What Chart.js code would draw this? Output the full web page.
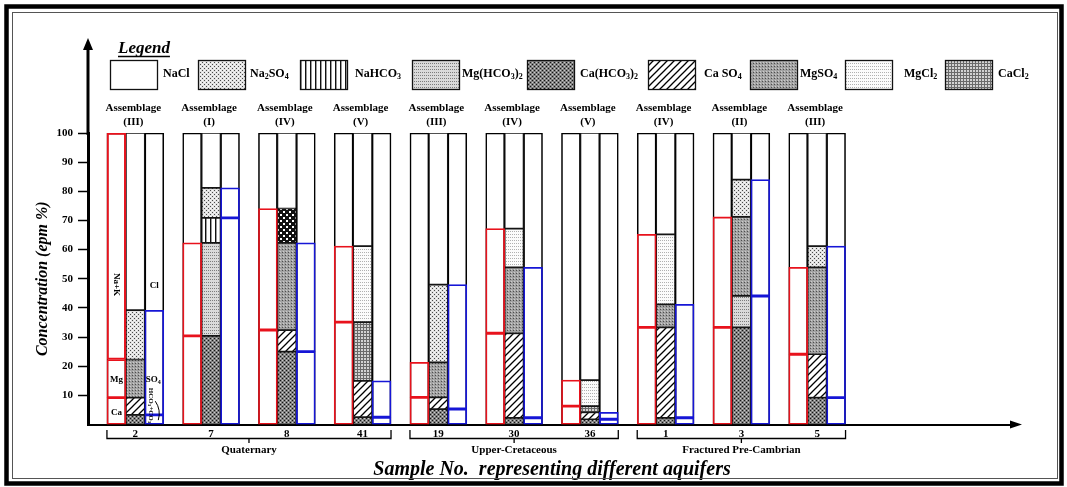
<!DOCTYPE html>
<html>
<head>
<meta charset="utf-8">
<script src="https://cdn.jsdelivr.net/npm/chart.js@4.4.1/dist/chart.umd.min.js"></script>
<style>
  html, body { margin: 0; padding: 0; background: #fff; }
  canvas { display: block; }
</style>
</head>
<body>
<canvas id="c" width="1067" height="487"></canvas>
<script>
// ---- samples ----
const samples     = ['2', '7', '8', '41', '19', '30', '36', '1', '3', '5'];
const assemblages = ['(III)', '(I)', '(IV)', '(V)', '(III)', '(IV)', '(V)', '(IV)', '(II)', '(III)'];
const aquiferNames = ['Quaternary', 'Upper-Cretaceous', 'Fractured Pre-Cambrian'];
const aquiferOf    = [0, 0, 0, 0, 1, 1, 1, 2, 2, 2];
const yTicks = [10, 20, 30, 40, 50, 60, 70, 80, 90, 100];

// ---- cations (epm %) ----
const caIon  = [9.2, 30.4, 32.4, 35.1, 9.3, 31.3, 6.3, 33.3, 33.3, 24.1];
const mgIon  = [13.1, 31.9, 41.7, 26.1, 12.0, 35.9, 8.9, 31.9, 37.9, 29.8];
const naKIon = [77.7, 37.7, 25.9, 38.8, 78.7, 32.8, 84.8, 34.8, 28.8, 46.1];

// ---- anions (epm %) ----
const hco3Ion = [3.3, 70.9, 25.0, 2.5, 5.3, 2.3, 1.8, 2.3, 44.1, 9.2];
const so4Ion  = [35.9, 10.3, 37.3, 12.5, 42.7, 51.6, 2.4, 38.9, 39.9, 52.0];
const clIon   = [60.8, 18.8, 37.7, 85.0, 52.0, 46.1, 95.8, 58.8, 16.0, 38.8];

// ---- hypothetical salts (epm %) ----
const caHCO3 = [3.3, 30.4, 25.0, 2.5, 5.3, 2.3, 1.8, 2.3, 33.3, 9.2];
const caSO4  = [5.9, 0, 7.4, 12.5, 4.0, 29.0, 2.4, 31.0, 0, 14.9];
const caCl2  = [0, 0, 0, 20.1, 0, 0, 2.1, 0, 0, 0];
const mgHCO3 = [0, 31.9, 0, 0, 0, 0, 0, 0, 10.8, 0];
const mgSO4  = [13.1, 0, 29.9, 0, 12.0, 22.6, 0, 7.9, 27.1, 29.8];
const mgCl2  = [0, 0, 11.8, 26.1, 0, 13.3, 8.9, 24.0, 0, 0];
const naHCO3 = [0, 8.6, 0, 0, 0, 0, 0, 0, 0, 0];
const na2SO4 = [16.9, 10.3, 0, 0, 26.7, 0, 0, 0, 12.8, 7.3];
const naCl   = [60.8, 18.8, 25.9, 38.8, 52.0, 32.8, 84.8, 34.8, 16.0, 38.8];

// ---- layout of the category axis: per sample three touching columns + a gap ----
const SLOTS = 49;
const slotLabels = Array.from({ length: SLOTS }, (_, i) => 'slot' + i);
const cationSlot = i => 4 * i + 1;
const saltSlot   = i => 4 * i + 2;
const anionSlot  = i => 4 * i + 3;

const SERIF = '"Liberation Serif", "Times New Roman", serif';
const RED = '#e8121c';
const BLUE = '#1616d6';

// ---- fill patterns ----
const pageCtx = document.getElementById('c').getContext('2d');
function makeTile(w, h, paint) {
  const c = document.createElement('canvas');
  c.width = w; c.height = h;
  paint(c.getContext('2d'), w, h);
  return pageCtx.createPattern(c, 'repeat');
}
function dots(g, color, pts) {
  g.fillStyle = color;
  pts.forEach(([x, y]) => g.fillRect(x, y, 1, 1));
}
const fills = {
  white: '#ffffff',
  fineDots: makeTile(4, 4, g => { g.fillStyle = '#e2e2e2'; g.fillRect(0, 0, 4, 4); dots(g, '#4a4a4a', [[0, 0], [2, 2]]); dots(g, '#fafafa', [[2, 0], [0, 2]]); }),
  vLines: makeTile(5, 1, g => { g.fillStyle = '#fff'; g.fillRect(0, 0, 5, 1); g.fillStyle = '#111'; g.fillRect(0, 0, 1, 1); g.fillStyle = '#9a9a9a'; g.fillRect(1, 0, 1, 1); }),
  hDots: makeTile(2, 3, g => { g.fillStyle = '#dadada'; g.fillRect(0, 0, 2, 3); dots(g, '#7c7c7c', [[0, 0]]); }),
  darkDots: makeTile(4, 4, g => { g.fillStyle = '#808080'; g.fillRect(0, 0, 4, 4); dots(g, '#141414', [[0, 0], [2, 2]]); dots(g, '#cccccc', [[2, 0], [0, 2]]); }),
  hatch: makeTile(7, 7, (g, w, h) => {
    g.fillStyle = '#fff'; g.fillRect(0, 0, w, h);
    g.strokeStyle = '#000'; g.lineWidth = 1.3; g.beginPath();
    g.moveTo(0, h); g.lineTo(w, 0);
    g.moveTo(-1, 1); g.lineTo(1, -1);
    g.moveTo(w - 1, h + 1); g.lineTo(w + 1, h - 1);
    g.stroke();
  }),
  grayDots: makeTile(3, 3, g => { g.fillStyle = '#a2a2a2'; g.fillRect(0, 0, 3, 3); dots(g, '#4e4e4e', [[0, 0]]); dots(g, '#cccccc', [[1, 2]]); }),
  paleDots: makeTile(2, 3, g => { g.fillStyle = '#fbfbfb'; g.fillRect(0, 0, 2, 3); dots(g, '#b0b0b0', [[0, 0]]); }),
  grid: makeTile(3, 3, g => { g.fillStyle = '#d2d2d2'; g.fillRect(0, 0, 3, 3); g.fillStyle = '#6a6a6a'; g.fillRect(0, 0, 3, 1); g.fillRect(0, 0, 1, 3); }),
  checker: makeTile(6, 6, g => { g.fillStyle = '#111'; g.fillRect(0, 0, 6, 6); g.fillStyle = '#fff'; g.fillRect(1, 1, 2, 2); g.fillRect(4, 4, 2, 2); })
};

// salts in stacking order (bottom to top of the middle column)
const saltLayers = [
  { name: 'Ca(HCO_3)_2', values: caHCO3, fill: 'darkDots' },
  { name: 'Ca SO_4',     values: caSO4,  fill: 'hatch' },
  { name: 'CaCl_2',      values: caCl2,  fill: 'grid' },
  { name: 'Mg(HCO_3)_2', values: mgHCO3, fill: 'hDots' },
  { name: 'MgSO_4',      values: mgSO4,  fill: 'grayDots' },
  { name: 'MgCl_2',      values: mgCl2,  fill: 'paleDots', alt: { '8': 'checker' } },
  { name: 'NaHCO_3',     values: naHCO3, fill: 'vLines' },
  { name: 'Na_2SO_4',    values: na2SO4, fill: 'fineDots' },
  { name: 'NaCl',        values: naCl,   fill: 'white' }
];
const legendOrder = ['NaCl', 'Na_2SO_4', 'NaHCO_3', 'Mg(HCO_3)_2', 'Ca(HCO_3)_2', 'Ca SO_4', 'MgSO_4', 'MgCl_2', 'CaCl_2'];

// turn stacked layers into floating [from, to] bars placed in one column slot
function stackedSeries(layers, slotOf) {
  const base = samples.map(() => 0);
  return layers.map(values => {
    const data = new Array(SLOTS).fill(null);
    values.forEach((v, i) => {
      if (v > 0) data[slotOf(i)] = [base[i], base[i] + v];
      base[i] += v;
    });
    return data;
  });
}

const frameData = new Array(SLOTS).fill(null);
samples.forEach((_, i) => {
  [cationSlot(i), saltSlot(i), anionSlot(i)].forEach(s => { frameData[s] = [0, 100]; });
});

const saltData = stackedSeries(saltLayers.map(l => l.values), saltSlot);
const [caData, mgData, naKData] = stackedSeries([caIon, mgIon, naKIon], cationSlot);
const [hco3Data, so4Data] = stackedSeries([hco3Ion, so4Ion, clIon], anionSlot);

const sampleAtSlot = idx => samples[Math.floor(idx / 4)];
const clear = 'rgba(0,0,0,0)';

const datasets = [
  { label: 'column', data: frameData, backgroundColor: '#fff', borderColor: '#000', borderWidth: 1.6, order: 10 },
  ...saltLayers.map((l, k) => ({
    label: l.name.replace(/_/g, ''),
    data: saltData[k],
    backgroundColor: ctx => fills[(l.alt && l.alt[sampleAtSlot(ctx.dataIndex)]) || l.fill],
    borderColor: '#151515', borderWidth: 1.2, order: 5
  })),
  { label: 'Ca', data: caData, backgroundColor: clear, borderColor: RED, borderWidth: 1.1, order: 2 },
  { label: 'Mg', data: mgData, backgroundColor: clear, borderColor: RED, borderWidth: 1.1, order: 2 },
  { label: 'Na+K', data: naKData, backgroundColor: clear,
    borderColor: ctx => (sampleAtSlot(ctx.dataIndex) === '2' ? RED : clear), borderWidth: 1.5, order: 2 },
  { label: 'HCO3', data: hco3Data, backgroundColor: clear, borderColor: BLUE, borderWidth: 1.1, order: 2 },
  { label: 'SO4', data: so4Data, backgroundColor: clear, borderColor: BLUE, borderWidth: 1.1, order: 2 }
];

// text with subscript digits written as "_n"
function drawChem(ctx, text, x, y, size, align) {
  const parts = text.split(/_(\d)/);
  const big = `bold ${size}px ${SERIF}`;
  const small = `bold ${Math.round(size * 0.68)}px ${SERIF}`;
  let total = 0;
  parts.forEach((p, k) => { ctx.font = k % 2 ? small : big; total += ctx.measureText(p).width; });
  let cx = align === 'center' ? x - total / 2 : x;
  ctx.textAlign = 'left';
  ctx.textBaseline = 'middle';
  parts.forEach((p, k) => {
    ctx.font = k % 2 ? small : big;
    ctx.fillText(p, cx, k % 2 ? y + size * 0.28 : y);
    cx += ctx.measureText(p).width;
  });
}

const decor = {
  id: 'decor',
  beforeDraw(chart) {
    const { ctx, width, height } = chart;
    ctx.save();
    ctx.fillStyle = '#fff';
    ctx.fillRect(0, 0, width, height);
    ctx.restore();
  },
  afterDatasetsDraw(chart) {
    const { ctx, scales: { x, y } } = chart;
    const first = 0;
    const cx = x.getPixelForValue(cationSlot(first));
    const ax = x.getPixelForValue(anionSlot(first));
    ctx.save();
    ctx.fillStyle = '#000';
    ctx.font = `bold 9px ${SERIF}`;
    ctx.textAlign = 'center';
    ctx.textBaseline = 'middle';
    ctx.fillText('Mg', cx, y.getPixelForValue(15.5));
    ctx.fillText('Ca', cx, y.getPixelForValue(4.2));
    ctx.fillText('Cl', ax, y.getPixelForValue(47.5));
    drawChem(ctx, 'SO_4', ax - 1, y.getPixelForValue(15.3), 9, 'center');
    ctx.save();
    ctx.translate(cx, y.getPixelForValue(52));
    ctx.rotate(Math.PI / 2);
    ctx.font = `bold 9px ${SERIF}`;
    ctx.fillText('Na+K', 0, 0);
    ctx.restore();
    ctx.save();
    ctx.translate(ax - 3, y.getPixelForValue(6.5));
    ctx.rotate(Math.PI / 2);
    drawChem(ctx, 'HCO_3+CO_3', 0, 0, 7, 'center');
    ctx.restore();
    // small curved pointer to the bicarbonate band
    ctx.strokeStyle = '#000';
    ctx.lineWidth = 1;
    ctx.beginPath();
    ctx.moveTo(ax + 1, y.getPixelForValue(8));
    ctx.quadraticCurveTo(ax + 7, y.getPixelForValue(5), ax + 4, y.getPixelForValue(1.5));
    ctx.stroke();
    ctx.restore();
  },
  afterDraw(chart) {
    const { ctx, chartArea: ca, scales: { x } } = chart;
    const slotW = (x.right - x.left) / SLOTS;
    ctx.save();
    ctx.fillStyle = '#000';
    ctx.strokeStyle = '#000';

    // axis arrows
    ctx.lineWidth = 3;
    ctx.beginPath();
    ctx.moveTo(ca.left, ca.top + 2);
    ctx.lineTo(ca.left, 48);
    ctx.stroke();
    ctx.beginPath();
    ctx.moveTo(ca.left, 38);
    ctx.lineTo(ca.left - 5, 50);
    ctx.lineTo(ca.left + 5, 50);
    ctx.closePath();
    ctx.fill();
    ctx.beginPath();
    ctx.moveTo(ca.right + 6, ca.bottom);
    ctx.lineTo(ca.right - 6, ca.bottom - 4);
    ctx.lineTo(ca.right - 6, ca.bottom + 4);
    ctx.closePath();
    ctx.fill();

    // assemblage headings
    ctx.textAlign = 'center';
    ctx.textBaseline = 'middle';
    ctx.font = `bold 11px ${SERIF}`;
    samples.forEach((_, i) => {
      const sx = x.getPixelForValue(saltSlot(i)) - 2;
      ctx.fillText('Assemblage', sx, 108);
      ctx.fillText(assemblages[i], sx, 122);
    });

    // aquifer brackets
    ctx.lineWidth = 1.3;
    aquiferNames.forEach((name, g) => {
      const members = samples.map((_, i) => i).filter(i => aquiferOf[i] === g);
      const left = x.getPixelForValue(cationSlot(members[0])) - slotW / 2;
      const right = x.getPixelForValue(anionSlot(members[members.length - 1])) + slotW / 2;
      const mid = (left + right) / 2;
      ctx.beginPath();
      ctx.moveTo(left, 430); ctx.lineTo(left, 438.5);
      ctx.lineTo(right, 438.5); ctx.lineTo(right, 430);
      ctx.moveTo(mid, 438.5); ctx.lineTo(mid, 443);
      ctx.stroke();
      ctx.font = `bold 11px ${SERIF}`;
      ctx.fillText(name, mid, 450);
    });

    // legend
    ctx.font = `bold italic 17px ${SERIF}`;
    ctx.textAlign = 'left';
    ctx.textBaseline = 'alphabetic';
    ctx.fillText('Legend', 118, 53);
    const lw = ctx.measureText('Legend').width;
    ctx.lineWidth = 1.5;
    ctx.beginPath();
    ctx.moveTo(118, 56.5); ctx.lineTo(118 + lw, 56.5);
    ctx.stroke();
    const boxX = [110, 198, 300, 412, 527, 648, 750, 845, 945];
    const textX = [163, 250, 355, 462, 580, 704, 800, 904, 998];
    legendOrder.forEach((name, k) => {
      const layer = saltLayers.find(l => l.name === name);
      ctx.fillStyle = fills[layer.fill];
      ctx.fillRect(boxX[k], 60, 47, 29);
      ctx.lineWidth = 1.3;
      ctx.strokeStyle = '#111';
      ctx.strokeRect(boxX[k] + 0.5, 60.5, 47, 29);
      ctx.fillStyle = '#000';
      drawChem(ctx, name, textX[k], 74, 12, 'left');
    });

    // page frame
    ctx.strokeStyle = '#000';
    ctx.lineWidth = 4.5;
    ctx.strokeRect(6.5, 6.5, 1055, 477);
    ctx.lineWidth = 1;
    ctx.strokeStyle = '#555';
    ctx.strokeRect(12.5, 12.5, 1045, 466);
    ctx.restore();
  }
};

new Chart(document.getElementById('c'), {
  type: 'bar',
  data: { labels: slotLabels, datasets },
  options: {
    responsive: false,
    animation: false,
    devicePixelRatio: 1,
    layout: { padding: { left: 14, top: 133, right: 51, bottom: 5 } },
    plugins: { legend: { display: false }, tooltip: { enabled: false } },
    datasets: { bar: { grouped: false, barPercentage: 1, categoryPercentage: 1, borderSkipped: false } },
    scales: {
      x: {
        type: 'category',
        offset: true,
        grid: { display: false, drawTicks: false },
        border: { display: true, color: '#000', width: 2 },
        ticks: {
          autoSkip: false, maxRotation: 0, minRotation: 0, padding: 3, color: '#000',
          font: { family: SERIF, size: 11, weight: 'bold' },
          callback: (v, i) => (i % 4 === 2 && (i - 2) / 4 < samples.length ? samples[(i - 2) / 4] : '')
        },
        title: {
          display: true, text: 'Sample No.  representing different aquifers', color: '#000',
          font: { family: SERIF, size: 20, weight: 'bold', style: 'italic' },
          padding: { top: 0, bottom: 0 }
        },
        afterFit(scale) { scale.height = 57.5; }
      },
      y: {
        type: 'linear', min: 0, max: 100,
        afterBuildTicks(scale) { scale.ticks = yTicks.map(v => ({ value: v })); },
        grid: { drawOnChartArea: false, drawTicks: true, tickLength: 10, tickColor: '#000', tickWidth: 1.5 },
        border: { display: true, color: '#000', width: 3 },
        ticks: { padding: 5, color: '#000', font: { family: SERIF, size: 11, weight: 'bold' } },
        title: {
          display: true, text: 'Concentration (epm %)', color: '#000',
          font: { family: SERIF, size: 16, weight: 'bold', style: 'italic' },
          padding: { top: 19, bottom: 0 }
        },
        afterFit(scale) { scale.width = 74; }
      }
    }
  },
  plugins: [decor]
});
</script>
</body>
</html>
